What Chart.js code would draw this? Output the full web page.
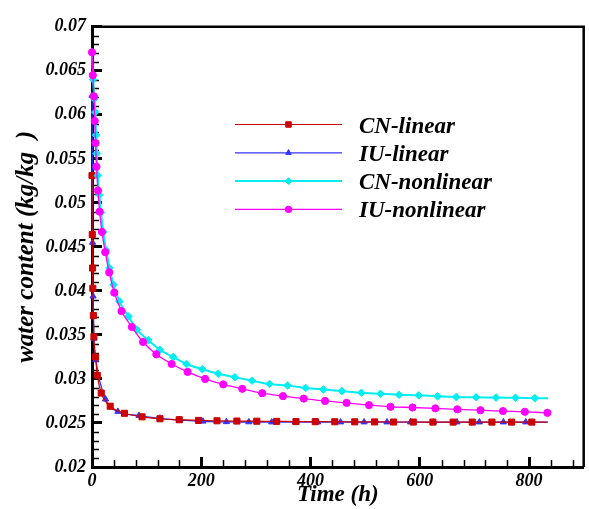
<!DOCTYPE html>
<html>
<head>
<meta charset="utf-8">
<script src="https://cdn.jsdelivr.net/npm/chart.js@4.4.1/dist/chart.umd.min.js"></script>
<style>
  html, body { margin: 0; padding: 0; background: #ffffff; }
  canvas { display: block; }
</style>
</head>
<body>
<canvas id="chart" width="589" height="509"></canvas>
<script>
// Drying curves: water content (kg/kg) against time (h)
const seriesNames = ['CN-linear', 'IU-linear', 'CN-nonlinear', 'IU-nonlinear'];

const cnLinearTime  = [0, 0.5, 1, 1.5, 2.5, 3.5, 6.5, 9.7, 16.9, 33.3, 59.4, 91.6, 124.4, 159.6, 194.9, 228.8, 265.2, 301.6, 338, 373.4, 408.6, 444.4, 480.9, 517.3, 552, 588, 624, 661, 696, 732, 768, 805, 834];
const cnLinearWater = [0.0531, 0.0464, 0.0426, 0.0403, 0.0372, 0.0348, 0.0325, 0.0304, 0.0284, 0.0269, 0.0261, 0.0257, 0.02548, 0.02537, 0.02529, 0.02525, 0.02522, 0.0252, 0.02518, 0.02516, 0.02515, 0.02514, 0.02513, 0.02512, 0.02511, 0.02511, 0.0251, 0.0251, 0.0251, 0.0251, 0.0251, 0.0251, 0.0251];

const iuLinearTime  = [0, 1, 2, 3.5, 7, 24.8, 47.4, 86, 124.4, 160.8, 203, 246, 287, 329, 372, 413, 455, 498, 540, 583, 625, 668, 709, 753, 794, 834];
const iuLinearWater = [0.0622, 0.0455, 0.0394, 0.0346, 0.0322, 0.0277, 0.0263, 0.02584, 0.02553, 0.02532, 0.02519, 0.02513, 0.02511, 0.0251, 0.0251, 0.0251, 0.0251, 0.0251, 0.0251, 0.0251, 0.0251, 0.0251, 0.0251, 0.0251, 0.0251, 0.0251];

const cnNonlinearTime  = [0, 2, 4.5, 6, 7.3, 8.5, 10.5, 13.5, 16.5, 20.5, 26, 32.1, 39.3, 50.3, 66.7, 82, 103.1, 124.4, 148.6, 173, 202, 231, 261.5, 293, 324.8, 358, 391, 423.5, 457.5, 493, 528, 562, 598, 632.6, 666.7, 703, 739.5, 775.2, 810.6, 835];
const cnNonlinearWater = [0.0671, 0.064, 0.0618, 0.0603, 0.0577, 0.0556, 0.0531, 0.0509, 0.0489, 0.0467, 0.0446, 0.0426, 0.0407, 0.0388, 0.0371, 0.0356, 0.0344, 0.0333, 0.0325, 0.0317, 0.0311, 0.0306, 0.0302, 0.0298, 0.02943, 0.02925, 0.02898, 0.0288, 0.02862, 0.02843, 0.02832, 0.02821, 0.02814, 0.02803, 0.02795, 0.02792, 0.02788, 0.02786, 0.02782, 0.0278];

const iuNonlinearTime  = [0, 1.5, 3.5, 5, 6.5, 8.2, 10.9, 13.9, 18.2, 24.2, 31.5, 40.8, 54, 72.9, 93.5, 117.7, 145.7, 174.9, 207, 240.3, 275, 311.5, 349.5, 387.6, 426.5, 466, 507, 546.4, 586.7, 628.4, 668.7, 711, 752.2, 792.3, 833.5];
const iuNonlinearWater = [0.0671, 0.0645, 0.0621, 0.0593, 0.0568, 0.0541, 0.0514, 0.049, 0.0467, 0.0444, 0.0421, 0.0398, 0.0377, 0.0359, 0.0342, 0.0328, 0.0317, 0.0308, 0.03, 0.02938, 0.02888, 0.02838, 0.02805, 0.02777, 0.0275, 0.02728, 0.02703, 0.02684, 0.02676, 0.02666, 0.02655, 0.02645, 0.02635, 0.02627, 0.02615];

const xTickLabels = ['0', '200', '400', '600', '800'];
const yTickLabels = ['0.02', '0.025', '0.03', '0.035', '0.04', '0.045', '0.05', '0.055', '0.06', '0.065', '0.07'];

const toPoints = (times, values) => times.map((t, i) => ({ x: t, y: values[i] }));

const SERIF = '"Liberation Serif", "Times New Roman", serif';
const labelFont = { family: SERIF, size: 18, style: 'italic', weight: 'bold' };

function makeSeries(label, times, values, color, style, radius, lineWidth, markEnd) {
  return {
    label,
    data: toPoints(times, values),
    borderColor: color,
    backgroundColor: color,
    borderWidth: lineWidth,
    pointStyle: style,
    pointBackgroundColor: color,
    pointBorderColor: color,
    pointBorderWidth: 1,
    pointRadius: ctx => (!markEnd && ctx.dataIndex === ctx.dataset.data.length - 1) ? 0 : radius,
    legendRadius: radius,
    cubicInterpolationMode: 'monotone',
    fill: false,
    clip: false
  };
}

const datasets = [
  makeSeries(seriesNames[0], cnLinearTime, cnLinearWater, '#cc0000', 'rect', 4.3, 1.2, false),
  makeSeries(seriesNames[1], iuLinearTime, iuLinearWater, '#3434ff', 'triangle', 3.6, 1.3, false),
  makeSeries(seriesNames[2], cnNonlinearTime, cnNonlinearWater, '#00eef2', 'rectRot', 3.8, 2, false),
  makeSeries(seriesNames[3], iuNonlinearTime, iuNonlinearWater, '#ff00ff', 'circle', 3.6, 1.3, true)
];
// drawing order: nonlinear curves on top, red squares above the blue line
datasets[0].order = 2;
datasets[1].order = 3;
datasets[2].order = 1;
datasets[3].order = 0;

// Closed frame plus short inward minor ticks
const frameAndMinorTicks = {
  id: 'frameAndMinorTicks',
  beforeDatasetsDraw(chart) {
    const { ctx, chartArea: a, scales: { x, y } } = chart;
    ctx.save();
    ctx.strokeStyle = '#000';
    ctx.lineWidth = 1.5;
    ctx.beginPath();
    for (let v = 40; v < x.max; v += 40) {
      if (v % 200 === 0) continue;
      const px = Math.round(x.getPixelForValue(v)) + 0.5;
      ctx.moveTo(px, a.bottom);
      ctx.lineTo(px, a.bottom - 7);
    }
    for (let k = 1; k < 50; k++) {
      if (k % 5 === 0) continue;
      const py = Math.round(y.getPixelForValue(0.02 + k * 0.001)) + 0.5;
      ctx.moveTo(a.left, py);
      ctx.lineTo(a.left + 7, py);
    }
    ctx.stroke();
    ctx.lineWidth = 2.5;
    ctx.beginPath();
    ctx.moveTo(a.left, a.top);
    ctx.lineTo(a.right, a.top);
    ctx.lineTo(a.right, a.bottom);
    ctx.stroke();
    ctx.restore();
  }
};

// Legend with a line sample and centred marker for each series
const lineLegend = {
  id: 'lineLegend',
  afterDatasetsDraw(chart) {
    const ctx = chart.ctx;
    chart.data.datasets.forEach((ds, i) => {
      const yy = 124.5 + i * 28.3;
      ctx.save();
      ctx.strokeStyle = ds.borderColor;
      ctx.lineWidth = ds.borderWidth;
      ctx.beginPath();
      ctx.moveTo(235, yy);
      ctx.lineTo(342, yy);
      ctx.stroke();
      ctx.fillStyle = ds.pointBackgroundColor;
      ctx.strokeStyle = ds.pointBorderColor;
      ctx.lineWidth = 1;
      Chart.helpers.drawPoint(ctx, {
        pointStyle: ds.pointStyle, rotation: 0,
        radius: ds.legendRadius * 0.9, borderWidth: 1
      }, 288.5, yy);
      ctx.fillStyle = '#000';
      ctx.font = 'italic bold 23px ' + SERIF;
      ctx.textAlign = 'left';
      ctx.textBaseline = 'alphabetic';
      ctx.fillText(ds.label, 359, yy + 8);
      ctx.restore();
    });
  }
};

new Chart(document.getElementById('chart'), {
  type: 'line',
  data: { datasets },
  options: {
    responsive: false,
    devicePixelRatio: 1,
    animation: false,
    layout: { padding: { top: 16, right: 3, left: 0, bottom: 0 } },
    plugins: { legend: { display: false }, tooltip: { enabled: false } },
    scales: {
      x: {
        type: 'linear',
        position: 'bottom',
        min: 0,
        max: 900,
        afterFit(scale) { scale.height = 42; },
        ticks: {
          stepSize: 200,
          includeBounds: false,
          autoSkip: false,
          maxRotation: 0,
          padding: 14,
          color: '#000',
          font: labelFont,
          callback: (v, i) => xTickLabels[i]
        },
        grid: { drawOnChartArea: false, drawTicks: true, tickLength: -10, tickWidth: 3, tickColor: '#000' },
        border: { display: true, color: '#000', width: 3 },
        title: {
          display: true,
          text: 'Time (h)',
          color: '#000',
          font: { family: SERIF, size: 23, style: 'italic', weight: 'bold' },
          padding: { top: 0, bottom: 0 }
        }
      },
      y: {
        type: 'linear',
        position: 'left',
        min: 0.02,
        max: 0.07,
        afterFit(scale) { scale.width = 92; },
        ticks: {
          stepSize: 0.005,
          autoSkip: false,
          padding: 16,
          color: '#000',
          font: labelFont,
          callback: (v, i) => yTickLabels[i]
        },
        grid: { drawOnChartArea: false, drawTicks: true, tickLength: -10, tickWidth: 3, tickColor: '#000' },
        border: { display: true, color: '#000', width: 3 },
        title: {
          display: true,
          text: 'water content (kg/kg  )',
          color: '#000',
          font: { family: SERIF, size: 25, style: 'italic', weight: 'bold' },
          padding: { top: 12, bottom: 0 }
        }
      }
    }
  },
  plugins: [frameAndMinorTicks, lineLegend]
});
</script>
</body>
</html>
